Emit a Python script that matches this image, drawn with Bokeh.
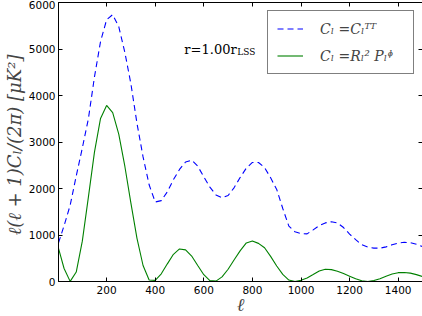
from bokeh.plotting import figure
from bokeh.models import (Range1d, LinearAxis, Legend, LegendItem, Label,
                          CustomJSTickFormatter, FixedTicker)
from bokeh.embed import file_html
from bokeh.resources import INLINE

# multipole moments (sampling positions)
ell = [2, 25, 50, 75, 100, 125, 150, 175, 200, 225, 250, 275, 300, 325, 350,
       375, 400, 425, 450, 475, 500, 525, 550, 575, 600, 625, 650, 675, 700,
       725, 750, 775, 800, 825, 850, 875, 900, 925, 950, 975, 1000, 1025,
       1050, 1075, 1100, 1125, 1150, 1175, 1200, 1225, 1250, 1275, 1300,
       1325, 1350, 1375, 1400, 1425, 1450, 1475, 1500]

# C_l = C_l^TT  (blue dashed)
cl_tt = [830, 1200, 1640, 2270, 2870, 3500, 4400, 5160, 5630, 5740, 5480,
         4930, 4250, 3400, 2680, 2080, 1710, 1740, 1930, 2190, 2410, 2570,
         2610, 2480, 2250, 2030, 1860, 1800, 1850, 2020, 2240, 2440, 2560,
         2560, 2450, 2230, 1980, 1570, 1190, 1070, 1030, 1025, 1110, 1200,
         1260, 1285, 1260, 1160, 1020, 900, 790, 740, 718, 716, 745, 790,
         825, 843, 835, 800, 750]

# C_l = R_l^2 P_l^Phi  (green solid)
cl_rp = [714, 280, 3, 203, 867, 1813, 2782, 3506, 3787, 3632, 3169, 2479,
         1685, 928, 344, 33, 25, 165, 380, 585, 700, 681, 548, 345, 146, 19,
         9, 99, 263, 467, 664, 830, 870, 820, 725, 540, 334, 152, 31, 1, 25,
         77, 150, 225, 262, 255, 220, 170, 115, 58, 14, 0, 20, 60, 112, 160,
         190, 195, 180, 148, 107]

x_ticks = [200, 400, 600, 800, 1000, 1200, 1400]
y_ticks = [0, 1000, 2000, 3000, 4000, 5000, 6000]
legend_labels = ["Cₗ =Cₗᵀᵀ", "Cₗ =Rₗ² Pₗᶲ"]
annotation = "r=1.00r"
annotation_sub = "LSS"
x_label = "ℓ"
y_label = "ℓ(ℓ + 1)Cₗ/(2π)  [μK²]"

p = figure(frame_width=364, frame_height=279, output_backend="svg",
           toolbar_location=None,
           x_range=Range1d(2, 1500), y_range=Range1d(0, 6000),
           min_border_left=52, min_border_right=2, min_border_top=2,
           min_border_bottom=10)
p.xgrid.visible = False
p.ygrid.visible = False
p.outline_line_color = "black"
p.outline_line_width = 1
p.background_fill_color = "white"
p.border_fill_color = "white"

blank = CustomJSTickFormatter(code="return ''")

def style_axis(ax, ticks):
    ax.ticker = FixedTicker(ticks=ticks)
    ax.major_tick_in = 4
    ax.major_tick_out = 0
    ax.minor_tick_line_color = None
    ax.axis_line_color = "black"
    ax.major_tick_line_color = "black"
    ax.major_label_text_font = "DejaVu Sans"
    ax.major_label_text_font_size = "10.5px"
    ax.major_label_text_color = "black"

style_axis(p.xaxis[0], x_ticks)
style_axis(p.yaxis[0], y_ticks)
p.xaxis[0].major_label_standoff = 4
p.yaxis[0].major_label_standoff = 3
p.xaxis[0].axis_label = x_label
p.xaxis[0].axis_label_text_font = "DejaVu Serif"
p.xaxis[0].axis_label_text_font_size = "18px"
p.xaxis[0].axis_label_text_font_style = "italic"
p.xaxis[0].axis_label_standoff = -3
p.yaxis[0].axis_label = y_label
p.yaxis[0].axis_label_text_font = "DejaVu Serif"
p.yaxis[0].axis_label_text_font_size = "18px"
p.yaxis[0].axis_label_text_font_style = "italic"
p.yaxis[0].axis_label_standoff = 1

top = LinearAxis(formatter=blank, major_label_standoff=0)
style_axis(top, x_ticks)
right = LinearAxis(formatter=blank, major_label_standoff=0)
style_axis(right, y_ticks)
p.add_layout(top, "above")
p.add_layout(right, "right")

r1 = p.line(ell, cl_tt, line_color="#0000ff", line_dash="6 4", line_width=1.1)
r2 = p.line(ell, cl_rp, line_color="#008000", line_width=1.1)

legend = Legend(items=[LegendItem(label=legend_labels[0], renderers=[r1]),
                       LegendItem(label=legend_labels[1], renderers=[r2])],
                location="top_right", margin=8, padding=9, spacing=10,
                glyph_width=26, glyph_height=17, label_height=17,
                label_width=84, label_standoff=17,
                label_text_font="DejaVu Serif", label_text_font_size="14px",
                label_text_font_style="italic",
                border_line_color="black", border_line_width=1,
                background_fill_color="white", background_fill_alpha=1.0)
p.add_layout(legend)

p.add_layout(Label(x=520, y=4990, text=annotation, text_font="DejaVu Serif",
                   text_font_size="13px", text_baseline="alphabetic",
                   text_color="black"))
p.add_layout(Label(x=520, y=4990, x_offset=53, y_offset=-3,
                   text=annotation_sub, text_font="DejaVu Serif",
                   text_font_size="9px", text_baseline="alphabetic",
                   text_color="black"))

open("out.html", "w").write(file_html(p, INLINE))
